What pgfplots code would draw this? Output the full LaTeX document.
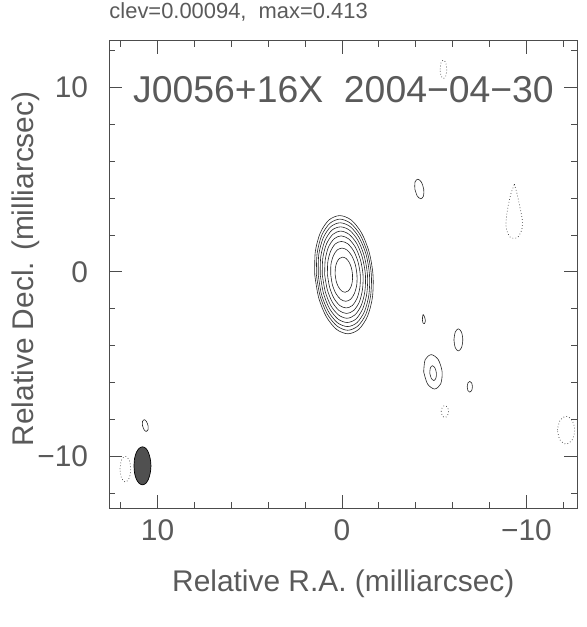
\documentclass[border=0pt]{standalone}
\usepackage{fontspec}
\setmainfont{Liberation Sans}
\usepackage{pgfplots}
\pgfplotsset{compat=1.18}

\definecolor{ink}{HTML}{5A5A5A}
\definecolor{beam}{HTML}{505050}

\pgfplotsset{
  cont/.style={black!85, line width=0.6pt, smooth, line join=round},
  neg/.style={black!80, line width=0.7pt, smooth, dash pattern=on 0.7pt off 2.3pt},
}

\begin{document}
\begin{tikzpicture}
\useasboundingbox (-109.3bp,-118.7bp) rectangle (477.7bp,508.3bp);
\begin{axis}[
  scale only axis,
  width=468bp, height=467.6bp,
  x dir=reverse,
  xmin=-12.76, xmax=12.62,
  ymin=-12.8, ymax=12.52,
  xtick={-10,0,10}, xticklabels={−10,0,10},
  ytick={-10,0,10}, yticklabels={−10,0,10},
  minor xtick={-12,-8,-6,-4,-2,2,4,6,8,12},
  minor ytick={-12,-8,-6,-4,-2,2,4,6,8,12},
  tick pos=both, tick align=inside,
  major tick length=13bp, minor tick length=6bp,
  axis line style={black!70, line width=0.9pt},
  every tick/.style={black!70, line width=0.9pt},
  ticklabel style={font=\fontsize{30}{30}\selectfont, text=ink, inner sep=0pt},
  xticklabel style={anchor=north, yshift=-11bp},
  yticklabel style={anchor=east, xshift=-21bp},
  xlabel={Relative R.A. (milliarcsec)},
  ylabel={Relative Decl. (milliarcsec)},
  label style={font=\fontsize{30}{30}\selectfont, text=ink, inner sep=0pt},
  xlabel style={at={(axis description cs:0.5,-0.177)}, anchor=base},
  ylabel style={at={(axis description cs:-0.1624,0.512)}, anchor=base},
]
% core, positive levels
\addplot[cont] coordinates {(1.48,-0.15)(1.45,1.08)(1.18,2.11)(0.71,2.81)(0.12,3.05)(-0.50,2.81)(-1.06,2.11)(-1.47,1.08)(-1.68,-0.15)(-1.65,-1.38)(-1.38,-2.41)(-0.91,-3.11)(-0.32,-3.35)(0.30,-3.11)(0.86,-2.41)(1.27,-1.38)(1.48,-0.15)};
\addplot[cont] coordinates {(1.39,-0.15)(1.35,1.00)(1.10,1.98)(0.66,2.63)(0.11,2.86)(-0.47,2.63)(-1.00,1.98)(-1.39,1.00)(-1.59,-0.15)(-1.55,-1.30)(-1.30,-2.28)(-0.86,-2.93)(-0.31,-3.16)(0.27,-2.93)(0.80,-2.28)(1.19,-1.30)(1.39,-0.15)};
\addplot[cont] coordinates {(1.29,-0.15)(1.26,0.93)(1.02,1.84)(0.61,2.45)(0.10,2.66)(-0.45,2.45)(-0.94,1.84)(-1.31,0.93)(-1.49,-0.15)(-1.46,-1.23)(-1.22,-2.14)(-0.81,-2.75)(-0.30,-2.96)(0.25,-2.75)(0.74,-2.14)(1.11,-1.23)(1.29,-0.15)};
\addplot[cont] coordinates {(1.18,-0.15)(1.15,0.84)(0.93,1.68)(0.56,2.25)(0.08,2.44)(-0.42,2.25)(-0.88,1.68)(-1.21,0.84)(-1.38,-0.15)(-1.35,-1.14)(-1.13,-1.98)(-0.76,-2.55)(-0.28,-2.74)(0.22,-2.55)(0.68,-1.98)(1.01,-1.14)(1.18,-0.15)};
\addplot[cont] coordinates {(1.07,-0.15)(1.04,0.76)(0.84,1.52)(0.50,2.03)(0.07,2.21)(-0.39,2.03)(-0.81,1.52)(-1.11,0.76)(-1.27,-0.15)(-1.24,-1.06)(-1.04,-1.82)(-0.70,-2.33)(-0.27,-2.51)(0.19,-2.33)(0.61,-1.82)(0.91,-1.06)(1.07,-0.15)};
\addplot[cont] coordinates {(0.94,-0.15)(0.91,0.65)(0.74,1.33)(0.43,1.79)(0.05,1.95)(-0.36,1.79)(-0.73,1.33)(-1.00,0.65)(-1.14,-0.15)(-1.11,-0.95)(-0.94,-1.63)(-0.63,-2.09)(-0.25,-2.25)(0.16,-2.09)(0.53,-1.63)(0.80,-0.95)(0.94,-0.15)};
\addplot[cont] coordinates {(0.79,-0.15)(0.77,0.54)(0.62,1.12)(0.36,1.52)(0.03,1.65)(-0.32,1.52)(-0.64,1.12)(-0.87,0.54)(-0.99,-0.15)(-0.97,-0.84)(-0.82,-1.42)(-0.56,-1.82)(-0.23,-1.95)(0.12,-1.82)(0.44,-1.42)(0.67,-0.84)(0.79,-0.15)};
\addplot[cont] coordinates {(0.61,-0.15)(0.60,0.40)(0.47,0.87)(0.27,1.18)(0.00,1.29)(-0.28,1.18)(-0.53,0.87)(-0.72,0.40)(-0.81,-0.15)(-0.80,-0.70)(-0.67,-1.17)(-0.47,-1.48)(-0.20,-1.59)(0.08,-1.48)(0.33,-1.17)(0.52,-0.70)(0.61,-0.15)};
\addplot[cont] coordinates {(0.37,-0.15)(0.36,0.22)(0.28,0.52)(0.14,0.73)(-0.03,0.80)(-0.22,0.73)(-0.39,0.52)(-0.51,0.22)(-0.57,-0.15)(-0.56,-0.52)(-0.48,-0.82)(-0.34,-1.03)(-0.17,-1.10)(0.02,-1.03)(0.19,-0.82)(0.31,-0.52)(0.37,-0.15)};

% small positive islands
\addplot[cont] coordinates {(-3.95,4.49)(-3.96,4.87)(-4.11,5.02)(-4.30,4.87)(-4.43,4.49)(-4.42,4.11)(-4.27,3.96)(-4.08,4.11)(-3.95,4.49)};
\addplot[cont] coordinates {(-4.40,-2.30)(-4.48,-2.45)(-4.52,-2.65)(-4.47,-2.80)(-4.40,-2.78)(-4.36,-2.60)(-4.37,-2.42)(-4.40,-2.30)};
\addplot[cont] coordinates {(-6.07,-3.68)(-6.14,-3.26)(-6.31,-3.08)(-6.48,-3.26)(-6.55,-3.68)(-6.48,-4.10)(-6.31,-4.28)(-6.14,-4.10)(-6.07,-3.68)};
\addplot[cont] coordinates {(-4.43,-5.41)(-4.51,-4.75)(-4.84,-4.48)(-5.22,-4.75)(-5.43,-5.41)(-5.35,-6.07)(-5.02,-6.34)(-4.64,-6.07)(-4.43,-5.41)};
\addplot[cont] coordinates {(-4.76,-5.48)(-4.79,-5.20)(-4.90,-5.08)(-5.04,-5.20)(-5.12,-5.48)(-5.09,-5.76)(-4.98,-5.88)(-4.84,-5.76)(-4.76,-5.48)};
\addplot[cont] coordinates {(-6.79,-6.22)(-6.83,-6.01)(-6.93,-5.93)(-7.03,-6.01)(-7.07,-6.22)(-7.03,-6.43)(-6.93,-6.51)(-6.83,-6.43)(-6.79,-6.22)};
\addplot[cont] coordinates {(10.82,-8.32)(10.82,-8.09)(10.73,-8.00)(10.61,-8.09)(10.52,-8.32)(10.52,-8.55)(10.61,-8.64)(10.73,-8.55)(10.82,-8.32)};

% negative levels
\addplot[neg] coordinates {(-9.35,4.75)(-9.50,4.20)(-9.65,3.50)(-9.78,2.80)(-9.75,2.30)(-9.55,1.90)(-9.35,1.82)(-9.10,1.90)(-8.92,2.30)(-8.90,2.80)(-9.00,3.50)(-9.15,4.20)(-9.35,4.75)};
\addplot[neg] coordinates {(-5.38,-7.56)(-5.44,-7.33)(-5.58,-7.24)(-5.72,-7.33)(-5.78,-7.56)(-5.72,-7.79)(-5.58,-7.88)(-5.44,-7.79)(-5.38,-7.56)};
\addplot[neg] coordinates {(-11.68,-8.57)(-11.82,-8.04)(-12.15,-7.82)(-12.48,-8.04)(-12.62,-8.57)(-12.48,-9.10)(-12.15,-9.32)(-11.82,-9.10)(-11.68,-8.57)};
\addplot[neg] coordinates {(-5.32,10.97)(-5.37,11.32)(-5.50,11.47)(-5.63,11.32)(-5.68,10.97)(-5.63,10.62)(-5.50,10.47)(-5.37,10.62)(-5.32,10.97)};
\addplot[neg] coordinates {(12.04,-10.68)(11.96,-10.19)(11.75,-9.98)(11.54,-10.19)(11.46,-10.68)(11.54,-11.17)(11.75,-11.38)(11.96,-11.17)(12.04,-10.68)};

% restoring beam
\addplot[draw=black, fill=beam, line width=0.7pt, smooth] coordinates {(11.28,-10.50)(11.25,-10.11)(11.15,-9.77)(11.00,-9.55)(10.82,-9.47)(10.64,-9.55)(10.50,-9.77)(10.40,-10.11)(10.36,-10.50)(10.40,-10.89)(10.50,-11.23)(10.64,-11.45)(10.82,-11.53)(11.00,-11.45)(11.15,-11.23)(11.25,-10.89)(11.28,-10.50)};

\node[anchor=base west, inner sep=0pt, text=ink, font=\fontsize{37.5}{37.5}\selectfont]
  at (axis description cs:0.0506,0.8668) {J0056+16X\ \ 2004−04−30};
\end{axis}
\node[anchor=base west, inner sep=0pt, text=ink, font=\fontsize{22}{22}\selectfont]
  at ([shift={(0bp,22.4bp)}]current axis.north west) {clev=0.00094,\ \ max=0.413};
\end{tikzpicture}
\end{document}
